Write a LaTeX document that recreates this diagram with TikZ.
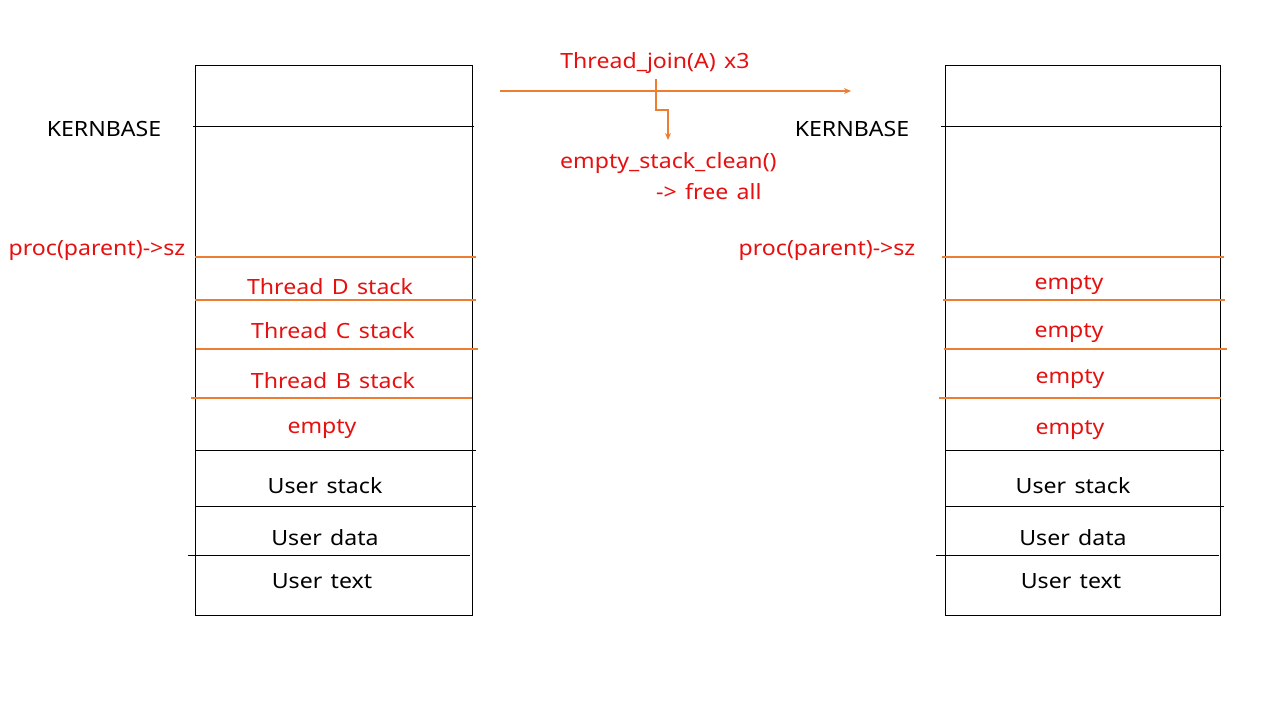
\documentclass[tikz,border=0pt]{standalone}
\usepackage{fontspec}
\setmainfont{Noto Sans}[FakeStretch=1.1,WordSpace=1.4]
\usetikzlibrary{arrows.meta}
\definecolor{accent}{RGB}{237,125,49}
\definecolor{hot}{RGB}{230,16,16}
\begin{document}
\begin{tikzpicture}[x=1pt,y=-1pt,
  frame/.style={draw=black,line width=0.9pt},
  blackrule/.style={draw=black,line width=0.9pt},
  orangerule/.style={draw=accent,line width=1.5pt},
  lbl/.style={inner sep=0pt,font=\fontsize{21}{25}\selectfont,yshift=-1pt},
  redlbl/.style={lbl,text=hot},
  flow/.style={draw=accent,line width=1.5pt,-{Stealth[length=7pt,width=6pt]}}]
\useasboundingbox (0,0) rectangle (1280,720);

% ---------- left address space ----------
\draw[frame] (195,65) rectangle (472,615);
\draw[blackrule] (193,126) -- (474,126);
\draw[orangerule] (195,257) -- (476,257);
\draw[orangerule] (195,300) -- (476,300);
\draw[orangerule] (196,349) -- (478,349);
\draw[orangerule] (191,398) -- (472,398);
\draw[blackrule] (195,450) -- (476,450);
\draw[blackrule] (195,506) -- (476,506);
\draw[blackrule] (188,555) -- (470,555);

\node[lbl] (kbL) at (104,128) {KERNBASE};
\node[redlbl] (szL) at (97,250) {proc(parent)->sz};
\node[redlbl] (tdL) at (330,286) {Thread D stack};
\node[redlbl] (tcL) at (333,330) {Thread C stack};
\node[redlbl] (tbL) at (333,380) {Thread B stack};
\node[redlbl] (emL) at (322,428) {empty};
\node[lbl] (usL) at (325,485) {User stack};
\node[lbl] (udL) at (325,537) {User data};
\node[lbl] (utL) at (322,580) {User text};

% ---------- right address space ----------
\draw[frame] (945,65) rectangle (1220,615);
\draw[blackrule] (941,126) -- (1222,126);
\draw[orangerule] (942,257) -- (1224,257);
\draw[orangerule] (943,300) -- (1225,300);
\draw[orangerule] (944,349) -- (1227,349);
\draw[orangerule] (939,398) -- (1221,398);
\draw[blackrule] (945,450) -- (1224,450);
\draw[blackrule] (945,506) -- (1224,506);
\draw[blackrule] (936,555) -- (1219,555);

\node[lbl] (kbR) at (852,128) {KERNBASE};
\node[redlbl] (szR) at (827,250) {proc(parent)->sz};
\node[redlbl] (e1R) at (1069,284) {empty};
\node[redlbl] (e2R) at (1069,332) {empty};
\node[redlbl] (e3R) at (1070,378) {empty};
\node[redlbl] (e4R) at (1070,429) {empty};
\node[lbl] (usR) at (1073,485) {User stack};
\node[lbl] (udR) at (1073,537) {User data};
\node[lbl] (utR) at (1071,580) {User text};

% ---------- transition ----------
\node[redlbl] (join) at (655,62) {Thread\_join(A) x3};
\coordinate (flowStart) at (500,91);
\coordinate (flowEnd) at (851,91);
\draw[flow] (flowStart) -- (flowEnd);
\coordinate (tapTop) at (656,79);
\coordinate (tapEnd) at (668,140);
\draw[flow] (tapTop) -- (656,110) -- (668,110) -- (tapEnd);
\node[redlbl,anchor=west] (clean) at (560,162) {empty\_stack\_clean()};
\node[redlbl,anchor=west] (free) at (656,191) {-> free all};
\end{tikzpicture}
\end{document}
